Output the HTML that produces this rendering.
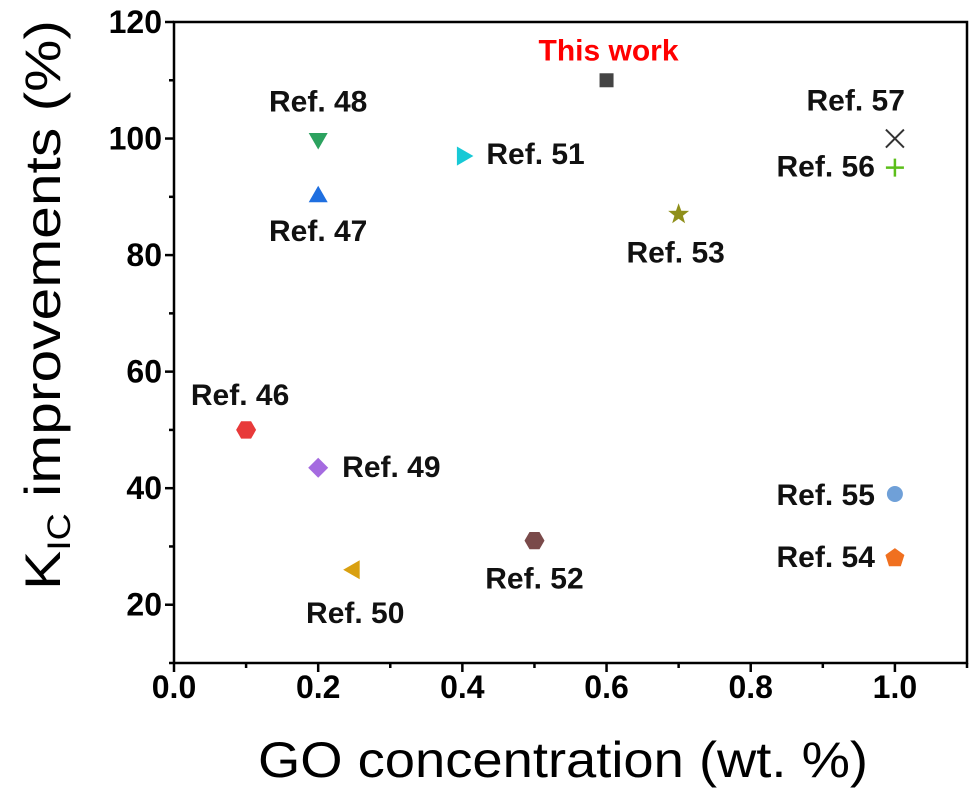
<!DOCTYPE html>
<html><head><meta charset="utf-8"><style>
html,body{margin:0;padding:0;background:#fff;}
svg{display:block;font-family:"Liberation Sans",Arial,sans-serif;}
</style></head><body>
<svg id="chart" width="972" height="789" viewBox="0 0 972 789"></svg>
<script>
const labels=["This work","Ref. 48","Ref. 47","Ref. 51","Ref. 53","Ref. 57","Ref. 56","Ref. 46","Ref. 49","Ref. 50","Ref. 52","Ref. 55","Ref. 54"];
const xVals=[0.6,0.2,0.2,0.4,0.7,1.0,1.0,0.1,0.2,0.25,0.5,1.0,1.0];
const yVals=[110,100,90,97,87,100,95,50,43.5,26,31,39,28];
const shapes=["square","tridown","triup","triright","star","x","plus","hex","diamond","trileft","hex","circle","pent"];
const colors=["#444444","#2ca25f","#1f6fe0","#17c9d6","#8f8f1a","#333333","#5cbf1a","#e83a3a","#a56be0","#d9a010","#7a4a4a","#6fa0d8","#f07020"];
const xTicks=[0.0,0.2,0.4,0.6,0.8,1.0];
const xTickLabels=["0.0","0.2","0.4","0.6","0.8","1.0"];
const yTicks=[20,40,60,80,100,120];
const yTickLabels=["20","40","60","80","100","120"];
// label offsets (dx,dy,anchor) relative to the marker
const labelPos=[[2,-20,"middle"],[0,-27,"middle"],[0,44,"middle"],[24,8,"start"],[-3,48,"middle"],[10,-28,"end"],[-20,9,"end"],[-6,-25,"middle"],[24,9,"start"],[1,53,"middle"],[0,48,"middle"],[-20,11,"end"],[-20,9,"end"]];

const svg=document.getElementById('chart');
const NS="http://www.w3.org/2000/svg";
const L=174,R=967,T=22,B=663,XMIN=0,XMAX=1.1,YMIN=10,YMAX=120;
const sx=v=>L+(v-XMIN)/(XMAX-XMIN)*(R-L);
const sy=v=>B-(v-YMIN)/(YMAX-YMIN)*(B-T);
function mk(tag,attrs,parent){const e=document.createElementNS(NS,tag);for(const k in attrs)e.setAttribute(k,attrs[k]);(parent||svg).appendChild(e);return e;}

const frame=mk('rect',{x:L,y:T,width:R-L,height:B-T,fill:'none',stroke:'#000','stroke-width':2.5});



for(let v=0;v<=1.1001;v+=0.1){
  const major=Math.abs(Math.round(v*10)%2)===0;
  const t=mk('line',{x1:sx(v),x2:sx(v),y1:B,y2:B+(major?9:5),stroke:'#000','stroke-width':2.5});
  
  
}
xTicks.forEach((v,i)=>{
  const t=mk('text',{x:sx(v),y:B+35,'text-anchor':'middle','font-size':32,'font-weight':'bold'});
  t.textContent=xTickLabels[i];
  
  
});
for(let v=10;v<=120;v+=10){
  const major=v%20===0;
  const t=mk('line',{x1:L,x2:L-(major?9:5),y1:sy(v),y2:sy(v),stroke:'#000','stroke-width':2.5});
  
  
}
yTicks.forEach((v,i)=>{
  const t=mk('text',{x:L-12,y:sy(v)+11,'text-anchor':'end','font-size':32,'font-weight':'bold'});
  t.textContent=yTickLabels[i];
  
  
});
const xt=mk('text',{x:258,y:777,'font-size':50,textLength:610,lengthAdjust:'spacingAndGlyphs'});
xt.textContent="GO concentration (wt. %)";


const yt=mk('text',{transform:'translate(60,590) rotate(-90)','font-size':50,textLength:570,lengthAdjust:'spacingAndGlyphs'});
yt.innerHTML='K<tspan font-size="32" dy="10">IC</tspan><tspan dy="-10"> improvements (%)</tspan>';



function poly(n,r,rot,cx,cy){let p=[];for(let i=0;i<n;i++){const a=rot+i*2*Math.PI/n;p.push((cx+r*Math.cos(a)).toFixed(1)+','+(cy+r*Math.sin(a)).toFixed(1));}return p.join(' ');}
labels.forEach((lab,i)=>{
  const cx=sx(xVals[i]),cy=sy(yVals[i]),c=colors[i];let m;
  switch(shapes[i]){
    case 'square':m=mk('rect',{x:cx-7,y:cy-7,width:14,height:14,fill:c});break;
    case 'tridown':m=mk('polygon',{points:poly(3,11,Math.PI/2,cx,cy),fill:c});break;
    case 'triup':m=mk('polygon',{points:poly(3,11,-Math.PI/2,cx,cy),fill:c});break;
    case 'triright':m=mk('polygon',{points:poly(3,11,0,cx,cy),fill:c});break;
    case 'trileft':m=mk('polygon',{points:poly(3,11,Math.PI,cx,cy),fill:c});break;
    case 'diamond':m=mk('polygon',{points:poly(4,10,0,cx,cy),fill:c});break;
    case 'hex':m=mk('polygon',{points:poly(6,10,0,cx,cy),fill:c});break;
    case 'pent':m=mk('polygon',{points:poly(5,10,-Math.PI/2,cx,cy),fill:c});break;
    case 'circle':m=mk('circle',{cx:cx,cy:cy,r:8,fill:c});break;
    case 'star':{let p=[];for(let k=0;k<10;k++){const a=-Math.PI/2+k*Math.PI/5,r=k%2?4.5:11;p.push((cx+r*Math.cos(a)).toFixed(1)+','+(cy+r*Math.sin(a)).toFixed(1));}m=mk('polygon',{points:p.join(' '),fill:c});break;}
    case 'x':m=mk('path',{d:`M${cx-9},${cy-9}L${cx+9},${cy+9}M${cx+9},${cy-9}L${cx-9},${cy+9}`,stroke:c,'stroke-width':2,fill:'none'});break;
    case 'plus':m=mk('path',{d:`M${cx-9},${cy}L${cx+9},${cy}M${cx},${cy-9}L${cx},${cy+9}`,stroke:c,'stroke-width':2.5,fill:'none'});break;
  }
  
  
  const lp=labelPos[i];
  const t=mk('text',{x:cx+lp[0],y:cy+lp[1],'text-anchor':lp[2],'font-size':30,'font-weight':'bold',fill:i===0?'#ff0000':'#111'});
  t.textContent=lab;
  
  
});
</script>
</body></html>
